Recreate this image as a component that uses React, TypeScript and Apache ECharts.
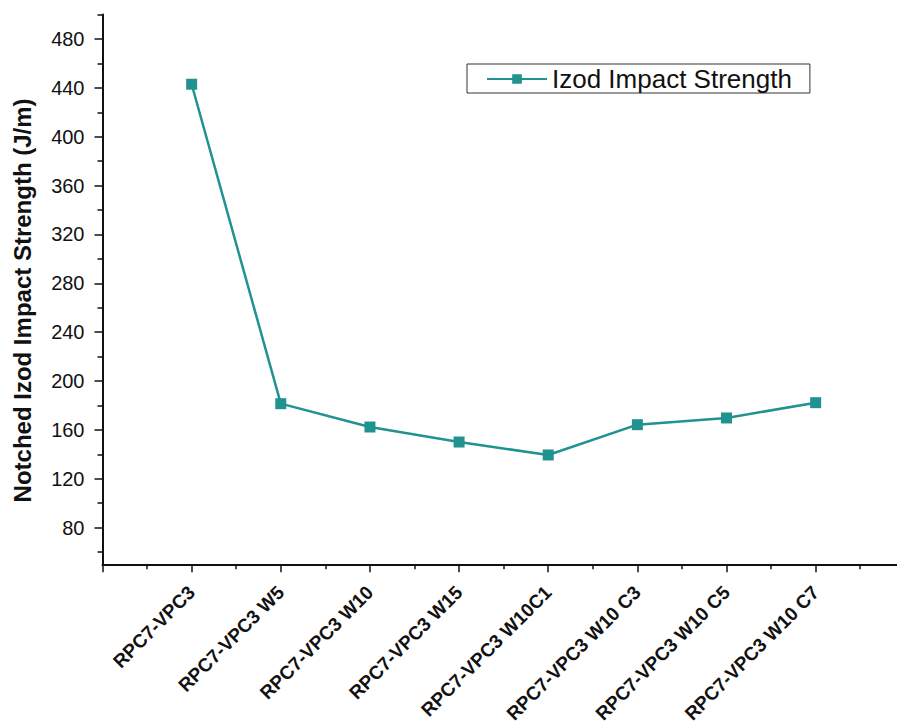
import React, { useEffect, useRef } from "react";
import * as echarts from "echarts";

const categories = [
  "RPC7-VPC3",
  "RPC7-VPC3 W5",
  "RPC7-VPC3 W10",
  "RPC7-VPC3 W15",
  "RPC7-VPC3 W10C1",
  "RPC7-VPC3 W10 C3",
  "RPC7-VPC3 W10 C5",
  "RPC7-VPC3 W10 C7",
];
const strengthValues = [443, 181.5, 162.4, 150.1, 139.5, 164.3, 169.8, 182.3];
const yMajorTicks = [80, 120, 160, 200, 240, 280, 320, 360, 400, 440, 480];
const yMinorTicks = [60, 100, 140, 180, 220, 260, 300, 340, 380, 420, 460, 500];
const seriesName = "Izod Impact Strength";
const yAxisTitle = "Notched Izod Impact Strength (J/m)";

const FONT = "'Liberation Sans', Arial, Helvetica, sans-serif";
const TEAL = "#20928f";

export default function App() {
  const ref = useRef<HTMLDivElement>(null);
  useEffect(() => {
    if (!ref.current) return;
    const chart = echarts.init(ref.current, null, { renderer: "svg" });
    const data = strengthValues.map((v, i) => [i + 1, v]);
    chart.setOption({
      animation: false,
      backgroundColor: "#ffffff",
      textStyle: { fontFamily: FONT },
      grid: {
        left: 102.5,
        top: 14.6,
        width: 802.3,
        height: 549.7,
        outerBoundsMode: "none",
        containLabel: false,
      },
      legend: {
        left: 467,
        top: 64,
        orient: "horizontal",
        data: [seriesName],
        itemWidth: 60,
        itemHeight: 12,
        borderColor: "#333",
        borderWidth: 1,
        padding: [2, 18, 1, 19],
        textStyle: { fontSize: 26, color: "#111", fontFamily: FONT },
      },
      xAxis: {
        type: "value",
        min: 0,
        max: 9,
        interval: 1,
        splitLine: { show: false },
        axisLine: { show: true, onZero: false, lineStyle: { color: "#111", width: 2 } },
        axisTick: { show: true, inside: false, length: 8, lineStyle: { color: "#111", width: 1.5 } },
        minorTick: { show: true, splitNumber: 2, length: 5, lineStyle: { color: "#111", width: 1.5 } },
        axisLabel: {
          rotate: 45,
          margin: 25,
          fontSize: 19,
          fontWeight: "bold",
          color: "#111",
          fontFamily: FONT,
          showMinLabel: true,
          showMaxLabel: true,
          formatter: (v: number) => categories[Math.round(v) - 1] ?? "",
        },
      },
      yAxis: [
        {
          type: "value",
          min: 50,
          max: 500,
          position: "left",
          splitLine: { show: false },
          axisLine: { show: true, onZero: false, lineStyle: { color: "#111", width: 2 } },
          axisTick: {
            show: true,
            inside: false,
            length: 8,
            customValues: yMajorTicks,
            lineStyle: { color: "#111", width: 1.5 },
          },
          axisLabel: {
            customValues: yMajorTicks,
            margin: 18,
            fontSize: 20,
            color: "#111",
            fontFamily: FONT,
          },
          name: yAxisTitle,
          nameLocation: "middle",
          nameGap: 68,
          nameTextStyle: {
            fontSize: 24,
            fontWeight: "bold",
            color: "#111",
            fontFamily: FONT,
            padding: [0, 22, 0, 0],
          },
        },
        {
          type: "value",
          min: 50,
          max: 500,
          position: "left",
          splitLine: { show: false },
          axisLine: { show: false },
          axisTick: {
            show: true,
            inside: false,
            length: 5,
            customValues: yMinorTicks,
            lineStyle: { color: "#111", width: 1.5 },
          },
          axisLabel: { show: false },
        },
      ],
      series: [
        {
          name: seriesName,
          type: "line",
          data,
          yAxisIndex: 0,
          symbol: "rect",
          symbolSize: 11,
          lineStyle: { color: TEAL, width: 2.5 },
          itemStyle: { color: TEAL },
        },
      ],
    });
    return () => chart.dispose();
  }, []);
  return (
    <div
      ref={ref}
      style={{ position: "fixed", left: 0, top: 0, width: 897, height: 726 }}
    />
  );
}
